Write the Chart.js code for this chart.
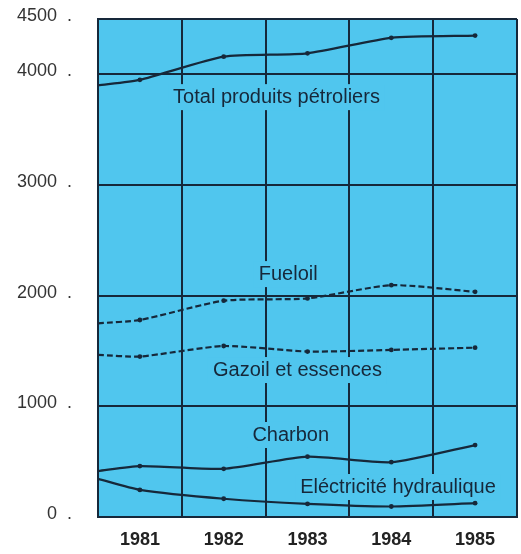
<!DOCTYPE html>
<html>
<head>
<meta charset="utf-8">
<script src="https://cdn.jsdelivr.net/npm/chart.js@4/dist/chart.umd.min.js"></script>
<style>
    html, body { margin: 0; padding: 0; background: #ffffff; }
    #wrap { width: 521px; height: 554px; }
</style>
</head>
<body>
<div id="wrap"><canvas id="energyChart"></canvas></div>
<script>
// First x value is where the curves enter the frame, before 1981
const years = [1980.5, 1981, 1982, 1983, 1984, 1985];
const yearLabels = [1981, 1982, 1983, 1984, 1985];

const totalPetrole = [3900, 3950, 4160, 4190, 4330, 4350];
const fueloil = [1750, 1780, 1955, 1975, 2095, 2035];
const gazoil = [1465, 1450, 1545, 1495, 1510, 1530];
const charbon = [415, 460, 435, 545, 495, 650];
const electricite = [345, 245, 165, 118, 95, 125];

const yTicks = [0, 1000, 2000, 3000, 4000, 4500];

// curve captions, placed in data units
const captions = [
    { text: 'Total produits pétroliers', x: 1982.63, y: 3794 },
    { text: 'Fueloil', x: 1982.77, y: 2195 },
    { text: 'Gazoil et essences', x: 1982.88, y: 1328 },
    { text: 'Charbon', x: 1982.8, y: 741 },
    { text: 'Eléctricité hydraulique', x: 1984.08, y: 271 }
];

const ink = '#16283a';
const cyan = '#50c6ee';

function toPoints(values) {
    return values.map((v, i) => ({ x: years[i], y: v }));
}

function series(values, dashed) {
    return {
        data: toPoints(values),
        borderColor: ink,
        backgroundColor: ink,
        borderWidth: 2.2,
        borderDash: dashed ? [6, 3] : [],
        pointRadius: (ctx) => ctx.dataIndex === 0 ? 0 : 2.4,
        pointBorderWidth: 0,
        tension: 0.2,
        fill: false
    };
}

// no extra room for edge labels, the frame is fixed
function noPadding(s) {
    s.paddingTop = 0;
    s.paddingBottom = 0;
    s.paddingLeft = 0;
    s.paddingRight = 0;
}

const panelPlugin = {
    id: 'panel',
    beforeDraw(chart) {
        const a = chart.chartArea;
        const c = chart.ctx;
        c.save();
        c.fillStyle = cyan;
        c.fillRect(a.left, a.top, a.right - a.left, a.bottom - a.top);
        c.restore();
    },
    beforeDatasetsDraw(chart) {
        const c = chart.ctx;
        const xs = chart.scales.x;
        const ys = chart.scales.y;
        c.save();
        c.font = '20px "Liberation Sans", Arial, sans-serif';
        c.textAlign = 'center';
        c.textBaseline = 'middle';
        captions.forEach(cap => {
            const px = xs.getPixelForValue(cap.x);
            const py = ys.getPixelForValue(cap.y);
            const w = c.measureText(cap.text).width;
            c.fillStyle = cyan;
            c.fillRect(px - w / 2 - 5, py - 13, w + 10, 26);
            c.fillStyle = ink;
            c.fillText(cap.text, px, py);
        });
        c.restore();
    }
};

new Chart(document.getElementById('energyChart'), {
    type: 'line',
    data: {
        datasets: [
            series(totalPetrole, false),
            series(fueloil, true),
            series(gazoil, true),
            series(charbon, false),
            series(electricite, false)
        ]
    },
    options: {
        responsive: true,
        maintainAspectRatio: false,
        animation: false,
        layout: { padding: { top: 19, right: 1, left: 0, bottom: 0 } },
        plugins: {
            legend: { display: false },
            tooltip: { enabled: false }
        },
        scales: {
            x: {
                type: 'linear',
                min: 1980.5,
                max: 1985.5,
                afterFit: (s) => { s.height = 37; noPadding(s); },
                ticks: {
                    stepSize: 0.5,
                    autoSkip: false,
                    maxRotation: 0,
                    padding: 12,
                    color: '#222',
                    font: { family: '"Liberation Sans Narrow", "Liberation Sans", Arial, sans-serif', size: 18, weight: 'bold' },
                    callback: (v) => yearLabels.includes(v) ? String(v) : ''
                },
                grid: {
                    drawTicks: false,
                    lineWidth: 2,
                    color: (ctx) => ctx.tick && ctx.tick.value % 1 !== 0 ? ink : 'rgba(0,0,0,0)'
                },
                border: { display: true, color: ink, width: 2 }
            },
            y: {
                min: 0,
                max: 4500,
                afterFit: (s) => { s.width = 98; noPadding(s); },
                afterBuildTicks: (s) => { s.ticks = yTicks.map(v => ({ value: v })); },
                ticks: {
                    padding: 26,
                    labelOffset: -3,
                    color: '#333',
                    font: { family: '"Liberation Sans", Arial, sans-serif', size: 18 },
                    callback: (v) => v + '  .'
                },
                grid: {
                    drawTicks: false,
                    lineWidth: 2,
                    color: ink
                },
                border: { display: true, color: ink, width: 2 }
            }
        }
    },
    plugins: [panelPlugin]
});
</script>
</body>
</html>
